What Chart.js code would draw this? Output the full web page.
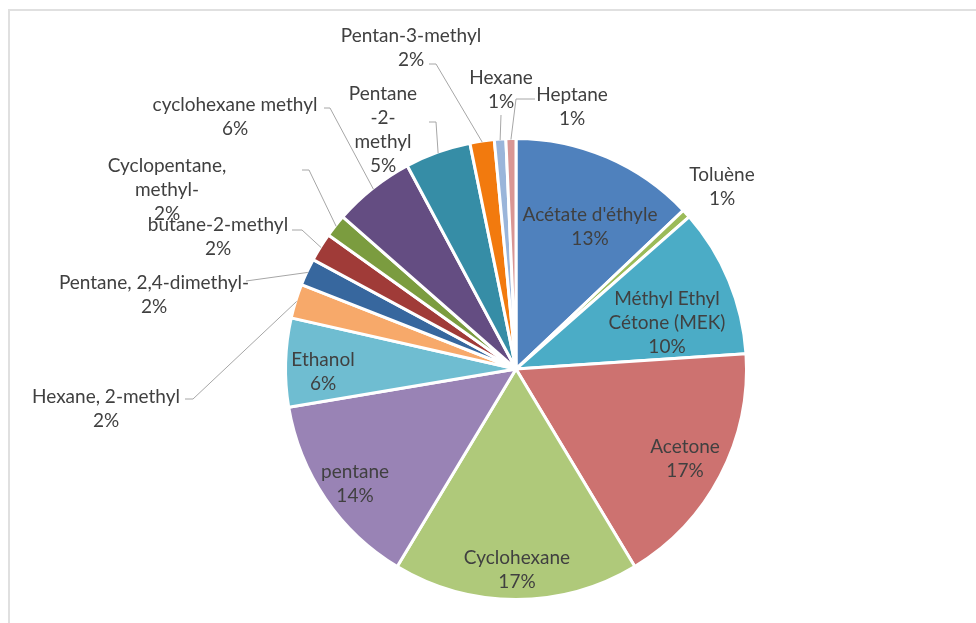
<!DOCTYPE html>
<html>
<head>
<meta charset="utf-8">
<script src="https://cdn.jsdelivr.net/npm/chart.js@4/dist/chart.umd.min.js"></script>
<style>
  html, body { margin: 0; padding: 0; background: #fff; }
  #wrap { position: relative; width: 976px; height: 623px; overflow: hidden; }
  #frame {
    position: absolute; left: 8px; top: 9px; right: -4px; bottom: -4px;
    border-top: 2px solid #e0e0e0; border-left: 2px solid #e0e0e0;
  }
  canvas { position: absolute; left: 0; top: 0; }
</style>
</head>
<body>
<div id="wrap">
  <div id="frame"></div>
  <canvas id="pie" width="976" height="623"></canvas>
</div>
<script>
// Solvent composition, clockwise from 12 o'clock
const solvents = [
  "Acétate d'éthyle", "Toluène", "Méthyl Ethyl Cétone (MEK)", "Acetone",
  "Cyclohexane", "pentane", "Ethanol", "Hexane, 2-methyl",
  "Pentane, 2,4-dimethyl-", "butane-2-methyl", "Cyclopentane, methyl-",
  "cyclohexane methyl", "Pentane -2- methyl", "Pentan-3-methyl",
  "Hexane", "Heptane"
];
const shares = [12.9, 0.6, 10.4, 17.4, 17.2, 13.7, 6.2, 2.4, 1.9, 2.0, 1.6, 5.7, 4.6, 1.7, 0.8, 0.7];
const sliceColors = [
  "#4F81BD", "#9BBB59", "#4BACC6", "#CD7270",
  "#AFC97A", "#9983B5", "#6FBDD1", "#F7A96A",
  "#37679E", "#A03B38", "#7B9C3F", "#644D82",
  "#368DA6", "#F27A0E", "#9AB5DA", "#D99694"
];

// where each label goes, in px from the pie centre
// at: text block centre, wrap: max line width, lead: leader elbow/end points
const labelLayout = [
  { at: [74, -142] },
  { at: [206, -182] },
  { at: [151, -46], wrap: 145 },
  { at: [169, 90] },
  { at: [1, 201] },
  { at: [-161, 115] },
  { at: [-193, 3] },
  { at: [-410, 39.5], lead: [[-323, 30], [-331, 30]] },
  { at: [-362, -74.5], lead: [[-270, -88]] },
  { at: [-298, -132.5], lead: [[-214, -139], [-224, -139]] },
  { at: [-349, -179.5], wrap: 145, lead: [[-207, -199], [-214, -199]] },
  { at: [-281, -252], lead: [[-186, -261], [-192, -261]] },
  { at: [-133, -239.5], wrap: 72, lead: [[-80, -247], [-87, -247]] },
  { at: [-105, -321.5], lead: [[-80, -305], [-87, -305]] },
  { at: [-15, -279.5], lead: [[-15, -254]] },
  { at: [56, -262], lead: [[0, -270], [19, -270]] }
];

const LINE_H = 24;

function wrapText(ctx, text, maxW) {
  if (!maxW) return [text];
  const words = text.split(" ");
  const lines = [];
  let cur = "";
  words.forEach(w => {
    const test = cur ? cur + " " + w : w;
    if (cur && ctx.measureText(test).width > maxW) {
      lines.push(cur);
      cur = w;
    } else {
      cur = test;
    }
  });
  if (cur) lines.push(cur);
  return lines;
}

const sliceLabels = {
  id: "sliceLabels",
  afterDatasetsDraw(chart) {
    const ctx = chart.ctx;
    const meta = chart.getDatasetMeta(0);
    const values = chart.data.datasets[0].data;
    const total = values.reduce((a, b) => a + b, 0);
    ctx.save();
    ctx.font = "19px Lato";
    ctx.textAlign = "center";
    ctx.textBaseline = "middle";
    meta.data.forEach((arc, i) => {
      const spot = labelLayout[i];
      const cx = arc.x, cy = arc.y;
      if (spot.lead) {
        const mid = (arc.startAngle + arc.endAngle) / 2;
        const r = arc.outerRadius - 1;
        ctx.beginPath();
        ctx.moveTo(cx + r * Math.cos(mid), cy + r * Math.sin(mid));
        spot.lead.forEach(p => ctx.lineTo(cx + p[0], cy + p[1]));
        ctx.strokeStyle = "#A6A6A6";
        ctx.lineWidth = 1;
        ctx.stroke();
      }
      const pct = Math.round(values[i] / total * 100) + "%";
      const lines = wrapText(ctx, chart.data.labels[i], spot.wrap).concat(pct);
      const top = cy + spot.at[1] - (lines.length - 1) * LINE_H / 2;
      ctx.fillStyle = "#404040";
      lines.forEach((ln, k) => ctx.fillText(ln, cx + spot.at[0], top + k * LINE_H));
    });
    ctx.restore();
  }
};

new Chart(document.getElementById("pie"), {
  type: "pie",
  data: {
    labels: solvents,
    datasets: [{
      data: shares,
      backgroundColor: sliceColors,
      borderColor: "#ffffff",
      borderWidth: 3,
      hoverOffset: 0,
      offset: 0
    }]
  },
  options: {
    responsive: false,
    animation: false,
    layout: { padding: { top: 137, bottom: 22, left: 284, right: 228 } },
    plugins: {
      legend: { display: false },
      tooltip: { enabled: false }
    }
  },
  plugins: [sliceLabels]
});
</script>
</body>
</html>
